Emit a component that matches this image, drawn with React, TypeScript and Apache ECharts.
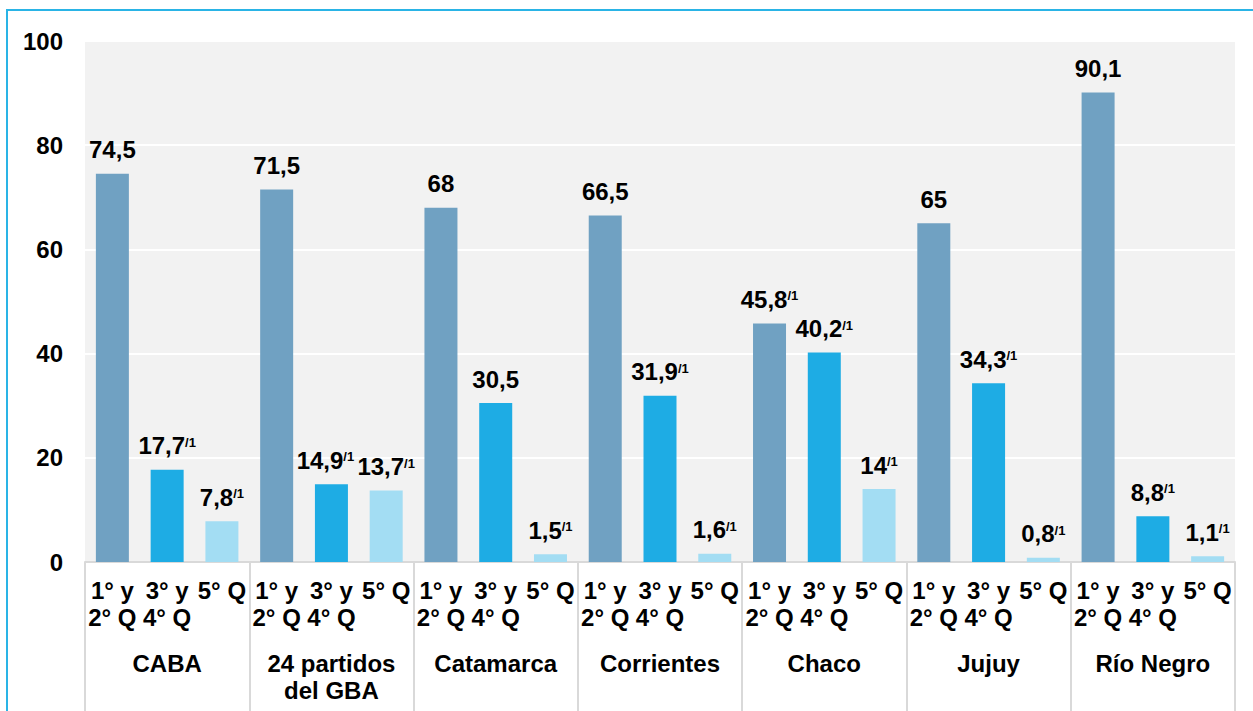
import React, { useEffect, useRef } from "react";
import * as echarts from "echarts";

const groups = ["CABA", "24 partidos\ndel GBA", "Catamarca", "Corrientes", "Chaco", "Jujuy", "Río Negro"];
const quintileLabels = ["1° y\n2° Q", "3° y\n4° Q", "5° Q"];
const q12 = [74.5, 71.5, 68, 66.5, 45.8, 65, 90.1];
const q34 = [17.7, 14.9, 30.5, 31.9, 40.2, 34.3, 8.8];
const q5 = [7.8, 13.7, 1.5, 1.6, 14, 0.8, 1.1];
const q12Note = [false, false, false, false, true, false, false];
const q34Note = [true, true, false, true, true, true, true];
const q5Note = [true, true, true, true, true, true, true];
const colors = ["#70a1c2", "#1eace4", "#a3ddf3"];
const yTicks = [0, 20, 40, 60, 80, 100];

const FONT = "'Liberation Sans', Arial, sans-serif";
const FS = 24;

export default function App() {
  const ref = useRef<HTMLDivElement>(null);
  useEffect(() => {
    document.body.style.margin = "0";
    const chart = echarts.init(ref.current!, undefined, { renderer: "svg" });
    const cats: string[] = [];
    const data: any[] = [];
    const notes: boolean[] = [];
    groups.forEach((g, gi) => {
      const vals = [q12[gi], q34[gi], q5[gi]];
      const ns = [q12Note[gi], q34Note[gi], q5Note[gi]];
      vals.forEach((v, k) => {
        cats.push(g + "#" + k);
        const item: any = { value: v, itemStyle: { color: colors[k] } };
        // the 24 partidos middle label is nudged left in the reference to avoid its neighbour
        if (gi === 1 && k === 1) item.label = { offset: [-6, 0] };
        data.push(item);
        notes.push(ns[k]);
      });
    });
    chart.setOption({
      animation: false,
      backgroundColor: "#ffffff",
      textStyle: { fontFamily: FONT },
      graphic: [
        {
          type: "rect",
          shape: { x: 7, y: 10, width: 1400, height: 900 },
          style: { fill: "none", stroke: "#2ab4e6", lineWidth: 2 },
          silent: true,
        },
      ],
      grid: {
        left: 85,
        right: 18,
        top: 41,
        bottom: 149,
        show: true,
        backgroundColor: "#f2f2f2",
        borderWidth: 0,
      },
      yAxis: {
        type: "value",
        min: yTicks[0],
        max: yTicks[yTicks.length - 1],
        interval: 20,
        axisLine: { show: false },
        axisTick: { show: false },
        splitLine: { lineStyle: { color: "#ffffff", width: 2 } },
        axisLabel: {
          margin: 22,
          color: "#000",
          fontSize: FS,
          fontWeight: "bold",
          fontFamily: FONT,
        },
      },
      xAxis: [
        {
          type: "category",
          data: cats,
          position: "bottom",
          axisLine: { show: true, lineStyle: { color: "#d9d9d9", width: 2 } },
          axisTick: { show: false },
          axisLabel: {
            interval: 0,
            margin: 15,
            color: "#000",
            fontSize: FS,
            fontWeight: "bold",
            fontFamily: FONT,
            lineHeight: 27,
            formatter: (_v: string, i: number) => quintileLabels[i % 3],
          },
        },
        {
          type: "category",
          data: groups,
          position: "bottom",
          axisLine: { show: false },
          axisTick: {
            show: true,
            length: 160,
            lineStyle: { color: "#d9d9d9", width: 2 },
          },
          axisLabel: {
            interval: 0,
            margin: 88,
            color: "#000",
            fontSize: FS,
            fontWeight: "bold",
            fontFamily: FONT,
            lineHeight: 27,
          },
        },
      ],
      series: [
        {
          type: "bar",
          xAxisIndex: 0,
          barWidth: 33,
          data,
          label: {
            show: true,
            position: "top",
            distance: 11,
            formatter: (p: any) => {
              const t = String(p.value).replace(".", ",");
              return notes[p.dataIndex] ? `{v|${t}}{s|/1}` : `{v|${t}}`;
            },
            rich: {
              v: {
                fontSize: FS,
                fontWeight: "bold",
                color: "#000",
                fontFamily: FONT,
                lineHeight: 26,
              },
              s: {
                fontSize: 13,
                fontWeight: "bold",
                color: "#000",
                fontFamily: FONT,
                lineHeight: 17,
                verticalAlign: "top",
                padding: [3, 0, 0, 0],
              },
            },
          },
        },
      ],
    });
    return () => chart.dispose();
  }, []);
  return <div ref={ref} style={{ width: 1253, height: 711 }} />;
}
